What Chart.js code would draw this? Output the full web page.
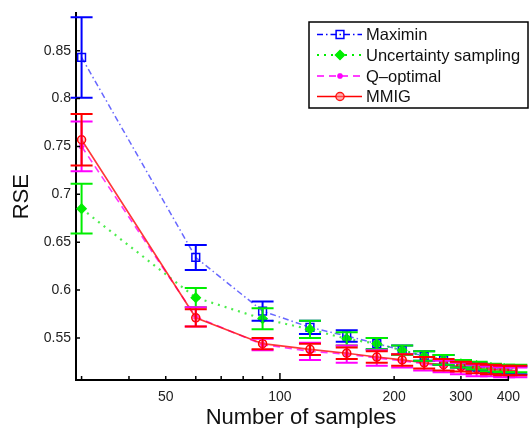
<!DOCTYPE html>
<html>
<head>
<meta charset="utf-8">
<script src="https://cdn.jsdelivr.net/npm/chart.js@4"></script>
<style>
  html, body { margin: 0; padding: 0; background: #fff; }
  #wrap { width: 529px; height: 428px; }
</style>
</head>
<body>
<div id="wrap"><canvas id="rseChart"></canvas></div>
<script>
// number of labelled samples
var sampleSizes = [30, 60, 90, 120, 150, 180, 210, 240, 270, 300, 330, 360, 390, 420];

// mean RSE and error bar half-widths per method
var maximinRse = [0.843, 0.634, 0.578, 0.561, 0.552, 0.544, 0.537, 0.531, 0.527, 0.523, 0.520, 0.518, 0.517, 0.516];
var maximinErr = [0.042, 0.013, 0.010, 0.007, 0.006, 0.006, 0.005, 0.005, 0.005, 0.004, 0.004, 0.004, 0.004, 0.004];
var uncertRse = [0.685, 0.592, 0.570, 0.559, 0.549, 0.544, 0.537, 0.531, 0.527, 0.523, 0.521, 0.519, 0.518, 0.518];
var uncertErr = [0.026, 0.010, 0.011, 0.009, 0.007, 0.006, 0.005, 0.005, 0.005, 0.004, 0.004, 0.004, 0.004, 0.004];
var qoptRse = [0.750, 0.572, 0.543, 0.536, 0.533, 0.529, 0.526, 0.523, 0.520, 0.518, 0.516, 0.515, 0.514, 0.514];
var qoptErr = [0.026, 0.010, 0.006, 0.009, 0.009, 0.008, 0.007, 0.007, 0.006, 0.006, 0.006, 0.005, 0.005, 0.005];
var mmigRse = [0.757, 0.571, 0.544, 0.538, 0.534, 0.530, 0.527, 0.524, 0.522, 0.520, 0.518, 0.517, 0.516, 0.516];
var mmigErr = [0.027, 0.009, 0.006, 0.006, 0.006, 0.006, 0.006, 0.006, 0.006, 0.005, 0.005, 0.005, 0.005, 0.005];

// axis ticks
var xTickValues = [30, 40, 50, 60, 70, 80, 90, 100, 200, 300, 400];
var xTickLabels = [50, 100, 200, 300, 400];
var yTickValues = [0.55, 0.6, 0.65, 0.7, 0.75, 0.8, 0.85];

var FONT = "'Liberation Sans', Arial, Helvetica, sans-serif";

function pts(ys) {
    return sampleSizes.map(function (x, i) { return { x: x, y: ys[i] }; });
}

var series = [
    { label: 'Maximin', rse: maximinRse, err: maximinErr, color: '#0000ff', line: 'rgba(40,40,255,0.7)',
      dash: [6, 3, 1.5, 3], width: 1.5, style: 'rect', radius: 5.5, fill: 'rgba(0,0,0,0)', order: 4 },
    { label: 'Uncertainty sampling', rse: uncertRse, err: uncertErr, color: '#00ee00', line: 'rgba(0,230,0,0.7)',
      dash: [2, 5], width: 2.2, style: 'rectRot', radius: 4.5, fill: '#00ee00', order: 3 },
    { label: 'Q\u2013optimal', rse: qoptRse, err: qoptErr, color: '#ff00ff', line: 'rgba(255,0,255,0.8)',
      dash: [7, 5], width: 1.6, style: 'star', radius: 3, fill: 'rgba(0,0,0,0)', order: 2 },
    { label: 'MMIG', rse: mmigRse, err: mmigErr, color: '#ff0000', line: 'rgba(255,20,20,0.85)',
      dash: [], width: 1.6, style: 'circle', radius: 4, fill: 'rgba(255,120,120,0.35)', order: 1 }
];

// error bars with caps, drawn over the lines
var errorBars = {
    id: 'errorBars',
    afterDatasetsDraw: function (chart) {
        var ctx = chart.ctx, xs = chart.scales.x, ys = chart.scales.y;
        ctx.save();
        series.forEach(function (s) {
            ctx.strokeStyle = s.color;
            ctx.lineWidth = 2;
            sampleSizes.forEach(function (n, i) {
                var px = xs.getPixelForValue(n);
                var top = ys.getPixelForValue(s.rse[i] + s.err[i]);
                var bot = ys.getPixelForValue(s.rse[i] - s.err[i]);
                ctx.beginPath();
                ctx.moveTo(px, top); ctx.lineTo(px, bot);
                ctx.moveTo(px - 11, top); ctx.lineTo(px + 11, top);
                ctx.moveTo(px - 11, bot); ctx.lineTo(px + 11, bot);
                ctx.stroke();
            });
        });
        ctx.restore();
    }
};

// inward tick marks, matlab style, plus the x axis title
var innerTicks = {
    id: 'innerTicks',
    afterDraw: function (chart) {
        var ctx = chart.ctx, xs = chart.scales.x, ys = chart.scales.y, a = chart.chartArea;
        ctx.save();
        ctx.strokeStyle = '#000';
        ctx.lineWidth = 1.5;
        ctx.beginPath();
        xTickValues.forEach(function (v) {
            var px = xs.getPixelForValue(v);
            var len = (v === 100) ? 7 : 4;
            ctx.moveTo(px, a.bottom); ctx.lineTo(px, a.bottom - len);
        });
        yTickValues.forEach(function (v) {
            var py = ys.getPixelForValue(v);
            ctx.moveTo(a.left, py); ctx.lineTo(a.left + 4, py);
        });
        ctx.stroke();

        ctx.fillStyle = '#111';
        ctx.font = '22px ' + FONT;
        ctx.textAlign = 'center';
        ctx.textBaseline = 'middle';
        ctx.fillText('Number of samples', 301, 418);
        ctx.restore();
    }
};

// boxed legend in the top right corner
var boxLegend = {
    id: 'boxLegend',
    afterDraw: function (chart) {
        var ctx = chart.ctx;
        var bx = 309, by = 22, bw = 219, bh = 86;
        ctx.save();
        ctx.fillStyle = '#fff';
        ctx.fillRect(bx, by, bw, bh);
        ctx.strokeStyle = '#000';
        ctx.lineWidth = 1.5;
        ctx.strokeRect(bx, by, bw, bh);
        var rows = [34.5, 55, 76, 96.5];
        series.forEach(function (s, i) {
            var y = rows[i];
            ctx.strokeStyle = s.color;
            ctx.lineWidth = s.width;
            ctx.setLineDash(s.dash);
            ctx.beginPath();
            ctx.moveTo(317, y); ctx.lineTo(362, y);
            ctx.stroke();
            ctx.setLineDash([]);
            ctx.lineWidth = 1.5;
            ctx.fillStyle = s.fill;
            Chart.helpers.drawPoint(ctx, { pointStyle: s.style, radius: s.radius, borderWidth: 1.5, rotation: 0 }, 340, y);
            if (s.style !== 'star') ctx.fill();
            ctx.fillStyle = '#111';
            ctx.font = '16.5px ' + FONT;
            ctx.textBaseline = 'middle';
            ctx.fillText(s.label, 366, y + 1);
        });
        ctx.restore();
    }
};

new Chart('rseChart', {
    type: 'line',
    data: {
        datasets: series.map(function (s) {
            return {
                label: s.label,
                data: pts(s.rse),
                borderColor: s.line,
                borderDash: s.dash,
                borderWidth: s.width,
                pointStyle: s.style,
                pointRadius: s.radius,
                pointBorderColor: s.color,
                pointBackgroundColor: s.fill,
                pointBorderWidth: 1.5,
                fill: false,
                tension: 0,
                clip: false,
                order: s.order
            };
        })
    },
    options: {
        responsive: true,
        maintainAspectRatio: false,
        animation: false,
        layout: { padding: { top: 13, right: 19, left: 0, bottom: 0 } },
        plugins: { legend: { display: false }, tooltip: { enabled: false } },
        scales: {
            x: {
                type: 'logarithmic',
                min: 29,
                max: 400,
                afterBuildTicks: function (scale) {
                    scale.ticks = xTickValues.map(function (v) { return { value: v }; });
                },
                afterFit: function (scale) { scale.height = 48; },
                ticks: {
                    autoSkip: false,
                    maxRotation: 0,
                    padding: 9,
                    color: '#222',
                    font: { family: FONT, size: 14 },
                    callback: function (v) { return xTickLabels.indexOf(v) >= 0 ? String(v) : ''; }
                },
                grid: { display: false, drawTicks: false },
                border: { display: true, color: '#000', width: 2 },
                title: { display: false }
            },
            y: {
                min: 0.506,
                max: 0.889,
                afterBuildTicks: function (scale) {
                    scale.ticks = yTickValues.map(function (v) { return { value: v }; });
                },
                afterFit: function (scale) { scale.width = 76; },
                ticks: {
                    padding: 5,
                    color: '#222',
                    font: { family: FONT, size: 14 },
                    callback: function (v) { return String(Math.round(v * 100) / 100); }
                },
                grid: { display: false, drawTicks: false },
                border: { display: true, color: '#000', width: 2 },
                title: {
                    display: true,
                    text: 'RSE',
                    color: '#111',
                    font: { family: FONT, size: 22, lineHeight: 1 },
                    padding: { top: 11, bottom: 0 }
                }
            }
        }
    },
    plugins: [errorBars, innerTicks, boxLegend]
});
</script>
</body>
</html>
